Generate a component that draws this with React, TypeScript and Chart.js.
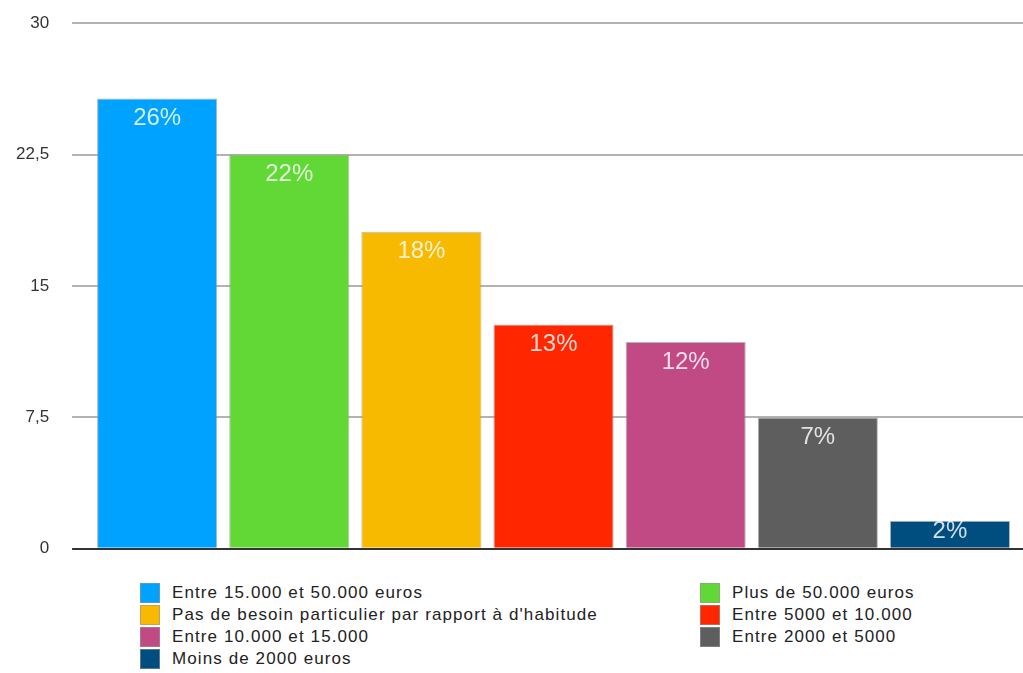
import React, { useEffect, useRef } from "react";
import { Chart, registerables } from "chart.js";

Chart.register(...registerables);

const categories = [
  "Entre 15.000 et 50.000 euros",
  "Plus de 50.000 euros",
  "Pas de besoin particulier par rapport à d'habitude",
  "Entre 5000 et 10.000",
  "Entre 10.000 et 15.000",
  "Entre 2000 et 5000",
  "Moins de 2000 euros",
];
const values = [25.7, 22.5, 18.1, 12.8, 11.8, 7.5, 1.6];
const valueLabels = ["26%", "22%", "18%", "13%", "12%", "7%", "2%"];
const colors = ["#00A2FF", "#61D836", "#F8BA00", "#FF2600", "#C14A85", "#5E5E5E", "#004D80"];
const yTickLabels: Record<string, string> = { "0": "0", "7.5": "7,5", "15": "15", "22.5": "22,5", "30": "30" };

const FONT = "'Liberation Sans', Arial, Helvetica, sans-serif";

const gridColor = (ctx: any) => (ctx.tick && ctx.tick.value === 0 ? "#333333" : "#b3b3b3");

const barLabelPlugin = {
  id: "barLabels",
  afterDatasetsDraw(chart: any) {
    const { ctx } = chart;
    const meta = chart.getDatasetMeta(0);
    ctx.save();
    ctx.font = `24px ${FONT}`;
    ctx.fillStyle = "rgba(255,255,255,0.82)";
    ctx.textAlign = "center";
    ctx.textBaseline = "middle";
    meta.data.forEach((bar: any, i: number) => {
      const y = Math.min(bar.y + 20, bar.base - 16);
      ctx.fillText(valueLabels[i], bar.x, y);
    });
    ctx.restore();
  },
};

export default function App() {
  const ref = useRef<HTMLCanvasElement>(null);
  useEffect(() => {
    if (!ref.current) return;
    const chart = new Chart(ref.current, {
      type: "bar",
      data: {
        labels: categories,
        datasets: [
          {
            data: values,
            backgroundColor: colors,
            borderColor: "rgba(150,150,150,0.7)",
            borderWidth: 1,
            barPercentage: 1,
            categoryPercentage: 120 / 132,
          },
        ],
      },
      options: {
        animation: false,
        responsive: false,
        maintainAspectRatio: false,
        layout: { padding: { top: 6, bottom: 16, left: -7, right: 0 } },
        plugins: { legend: { display: false }, tooltip: { enabled: false } },
        scales: {
          x: { display: false },
          y: {
            position: "left",
            min: 0,
            max: 30,
            border: { display: false },
            grid: { color: gridColor, lineWidth: 2, tickLength: 19, drawTicks: true },
            ticks: {
              stepSize: 7.5,
              padding: 23,
              color: "#333333",
              font: { family: FONT, size: 17 },
              callback: (v: any) => yTickLabels[String(v)] ?? String(v),
            },
          },
          y2: {
            position: "right",
            min: 0,
            max: 30,
            border: { display: false },
            grid: { color: gridColor, lineWidth: 2, tickLength: 7, drawTicks: true, drawOnChartArea: false },
            ticks: { stepSize: 7.5, display: false },
          },
        },
      },
      plugins: [barLabelPlugin],
    });
    return () => chart.destroy();
  }, []);

  const rows: number[][] = [];
  for (let i = 0; i < categories.length; i += 2) rows.push([i, i + 1]);

  return (
    <div style={{ position: "fixed", left: 0, top: 0, width: 1023, height: 673, background: "#fff", overflow: "hidden" }}>
      <canvas
        ref={ref}
        width={1023}
        height={592}
        style={{ position: "absolute", left: 0, top: -10, display: "block", width: 1023, height: 592 }}
      />
      <div
        style={{
          position: "absolute",
          left: 140,
          top: 582,
          fontFamily: FONT,
          fontSize: 17,
          letterSpacing: "1.1px",
          color: "#222",
        }}
      >
        {rows.map((r, ri) => (
          <div key={ri} style={{ display: "flex", height: 22, alignItems: "center" }}>
            {r.map((idx) =>
              idx < categories.length ? (
                <div key={idx} style={{ display: "flex", alignItems: "center", width: idx % 2 === 0 ? 560 : 320 }}>
                  <span
                    style={{
                      display: "inline-block",
                      width: 20,
                      height: 20,
                      background: colors[idx],
                      border: "1px solid rgba(150,150,150,0.6)",
                      boxSizing: "border-box",
                      marginRight: 12,
                    }}
                  />
                  <span style={{ whiteSpace: "nowrap" }}>{categories[idx]}</span>
                </div>
              ) : null
            )}
          </div>
        ))}
      </div>
    </div>
  );
}
